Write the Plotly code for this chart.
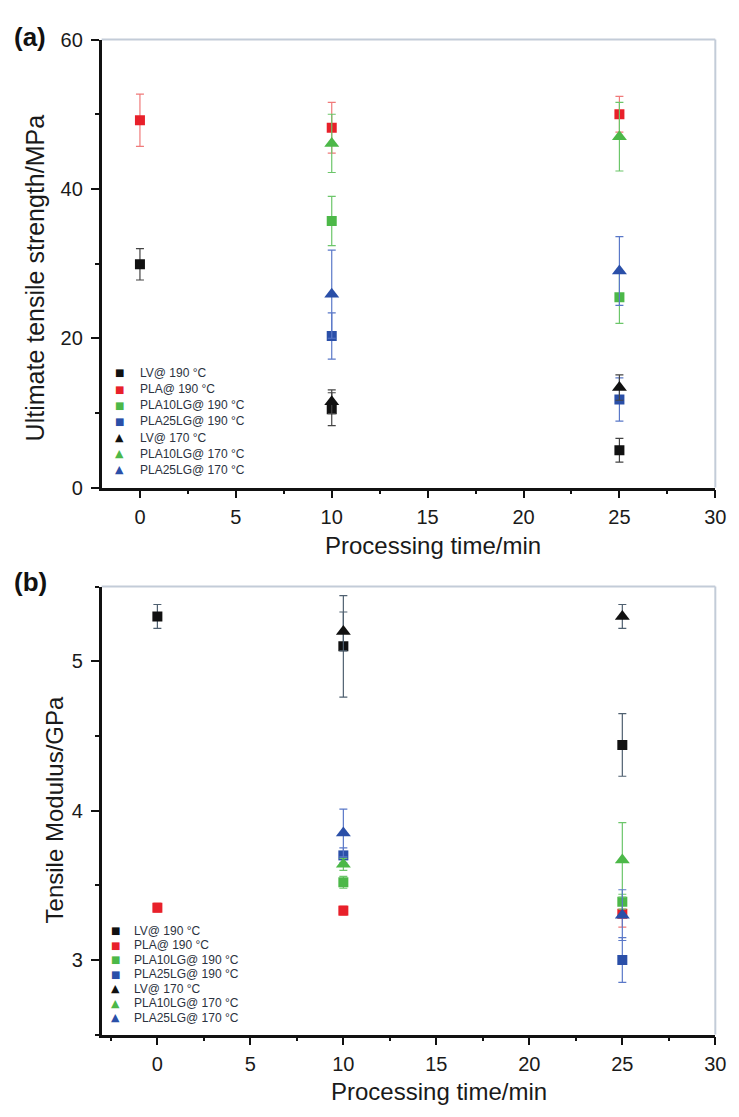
import plotly.graph_objects as go

# ---------------- data ----------------
times_all = [0, 10, 25]
times_lg = [10, 25]

series_names = ["LV@ 190 °C", "PLA@ 190 °C", "PLA10LG@ 190 °C", "PLA25LG@ 190 °C",
                "LV@ 170 °C", "PLA10LG@ 170 °C", "PLA25LG@ 170 °C"]
series_symbols = ["square", "square", "square", "square",
                  "triangle-up", "triangle-up", "triangle-up"]
series_x = [times_all, times_all, times_lg, times_lg, times_lg, times_lg, times_lg]

# (a) Ultimate tensile strength / MPa
uts_values = [
    [29.9, 10.5, 5.0],
    [49.2, 48.2, 50.0],
    [35.7, 25.5],
    [20.3, 11.8],
    [11.5, 13.4],
    [46.1, 47.0],
    [25.9, 29.0],
]
uts_errors = [
    [2.1, 2.2, 1.6],
    [3.5, 3.4, 2.4],
    [3.3, 3.5],
    [3.1, 2.9],
    [1.6, 1.7],
    [3.9, 4.6],
    [5.9, 4.6],
]

# (b) Tensile modulus / GPa
mod_values = [
    [5.30, 5.10, 4.44],
    [3.35, 3.33, 3.31],
    [3.52, 3.39],
    [3.70, 3.00],
    [5.20, 5.30],
    [3.64, 3.67],
    [3.85, 3.30],
]
mod_errors = [
    [0.08, 0.34, 0.21],
    [0.03, 0.03, 0.09],
    [0.04, 0.05],
    [0.05, 0.15],
    [0.13, 0.08],
    [0.04, 0.25],
    [0.16, 0.17],
]

x_ticks = [0, 5, 10, 15, 20, 25, 30]
uts_ticks = [0, 20, 40, 60]
mod_ticks = [3, 4, 5]

# ---------------- styles ----------------
series_colors = ["#111111", "#e8202a", "#4cb848", "#2a4fa8",
                 "#111111", "#4cb848", "#2a4fa8"]
error_colors_a = ["#444444", "#f07a7a", "#6cc66a", "#5a78c8",
                  "#444444", "#6cc66a", "#5a78c8"]
error_colors_b = ["#4f6070", "#f07a7a", "#6cc66a", "#5a78c8",
                  "#4f6070", "#6cc66a", "#5a78c8"]

W, H = 739, 1117
OFF = 8  # page body margin of the html page
FONT = "Liberation Sans, Arial, sans-serif"


def px_x(p):
    return (p - OFF) / W


def px_y(p):
    return 1 - (p - OFF) / H


fig = go.Figure()

panels = [
    ("x", "y", uts_values, uts_errors, error_colors_a),
    ("x2", "y2", mod_values, mod_errors, error_colors_b),
]
for xa, ya, vals, errs, ecols in panels:
    for i, name in enumerate(series_names):
        size = 10 if series_symbols[i] == "square" else 13
        fig.add_trace(go.Scatter(
            x=series_x[i], y=vals[i], name=name, mode="markers",
            marker=dict(symbol=series_symbols[i], color=series_colors[i], size=size, line=dict(width=0)),
            error_y=dict(type="data", array=errs[i], color=ecols[i], thickness=1.2, width=4),
            xaxis=xa, yaxis=ya, showlegend=False,
        ))

xdom = [px_x(103), px_x(726)]
tickfont = dict(family=FONT, size=20, color="#1a1a1a")
minor_style = dict(ticks="outside", ticklen=4, tickwidth=2, tickcolor="#111111")

common_axis = dict(
    showline=True, linecolor="#111111", linewidth=2.5, mirror=False,
    ticks="outside", ticklen=8, tickwidth=2, tickcolor="#111111",
    showgrid=False, zeroline=False, tickfont=tickfont,
)

fig.update_layout(
    width=W, height=H,
    margin=dict(l=0, r=0, t=0, b=0),
    paper_bgcolor="white", plot_bgcolor="white",
    showlegend=False,
    xaxis=dict(domain=xdom, range=[-2, 30], tickvals=x_ticks, anchor="y", ticklabelstandoff=2,
               minor=dict(dtick=2.5, tick0=0, **minor_style), **common_axis),
    yaxis=dict(domain=[px_y(486), px_y(29)], range=[0, 60], tickvals=uts_ticks, anchor="x",
               ticklabelstandoff=4, minor=dict(dtick=10, tick0=0, **minor_style), **common_axis),
    xaxis2=dict(domain=xdom, range=[-3, 30], tickvals=x_ticks, anchor="y2", ticklabelstandoff=2,
                minor=dict(dtick=2.5, tick0=0, **minor_style), **common_axis),
    yaxis2=dict(domain=[px_y(1044), px_y(587)], range=[2.5, 5.5], tickvals=mod_ticks, anchor="x2",
                ticklabelstandoff=4, minor=dict(dtick=0.5, tick0=0, **minor_style), **common_axis),
)

# light top/right frame lines
for xr, yr in [("x", "y"), ("x2", "y2")]:
    fig.add_shape(type="line", xref=f"{xr} domain", yref=f"{yr} domain",
                  x0=0, x1=1, y0=1, y1=1, line=dict(color="#c3ccd8", width=2), layer="below")
    fig.add_shape(type="line", xref=f"{xr} domain", yref=f"{yr} domain",
                  x0=1, x1=1, y0=0, y1=1, line=dict(color="#c3ccd8", width=2), layer="below")

# axis titles
titles = [
    ("Processing time/min", 439, 545, 0, 24),
    ("Processing time/min", 446, 1102, 0, 24),
    ("Ultimate tensile strength/MPa", 35, 272, -90, 25),
    ("Tensile Modulus/GPa", 55, 815, -90, 24),
]
for txt, cx, cy, ang, fs in titles:
    fig.add_annotation(text=txt, x=px_x(cx), y=px_y(cy), xref="paper", yref="paper",
                       xanchor="center", yanchor="middle", showarrow=False, textangle=ang,
                       font=dict(family=FONT, size=fs, color="#1a1a1a"))

# panel labels
fig.add_annotation(text="<b>(a)</b>", x=px_x(12), y=px_y(26), xref="paper", yref="paper",
                   xanchor="left", yanchor="middle", showarrow=False,
                   font=dict(family=FONT, size=26, color="#111111"))
fig.add_annotation(text="<b>(b)</b>", x=px_x(12), y=px_y(582), xref="paper", yref="paper",
                   xanchor="left", yanchor="middle", showarrow=False,
                   font=dict(family=FONT, size=26, color="#111111"))

# legends (compact, drawn as annotations)
legend_specs = [
    dict(mx=121, tx=140, y0=369, dy=16.5),
    dict(mx=117, tx=134, y0=938, dy=14.8),
]
for spec in legend_specs:
    for i, name in enumerate(series_names):
        yy = spec["y0"] + i * spec["dy"]
        sym = "■" if series_symbols[i] == "square" else "▲"
        fig.add_annotation(text=sym, x=px_x(spec["mx"]), y=px_y(yy), xref="paper", yref="paper",
                           xanchor="center", yanchor="middle", showarrow=False,
                           font=dict(family="DejaVu Sans", size=10 if sym == "■" else 11,
                                     color=series_colors[i]))
        fig.add_annotation(text=name, x=px_x(spec["tx"]), y=px_y(yy), xref="paper", yref="paper",
                           xanchor="left", yanchor="middle", showarrow=False,
                           font=dict(family=FONT, size=12, color="#2b3240"))

fig.write_html("out.html")
